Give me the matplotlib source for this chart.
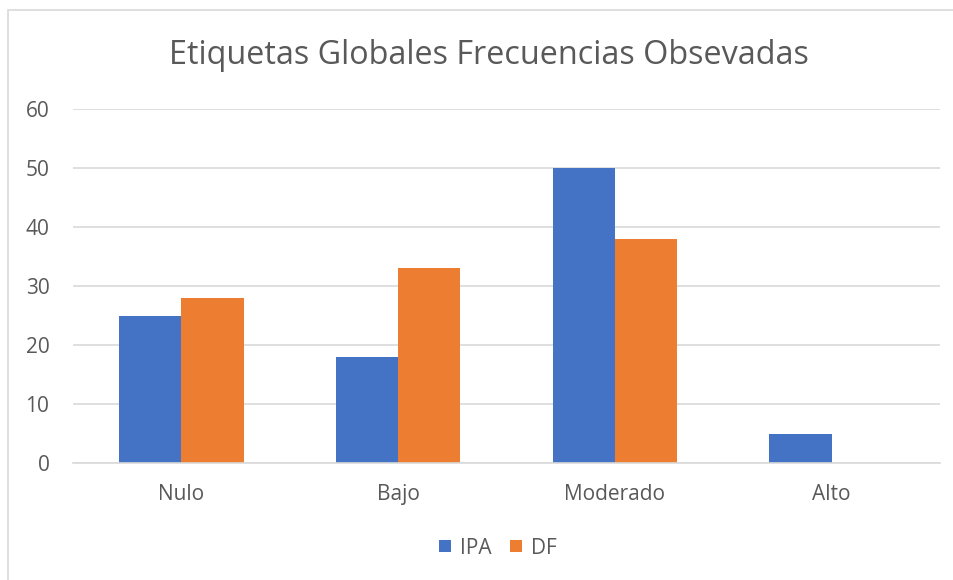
import numpy as np
import matplotlib as mpl
from matplotlib import pyplot as plt
from matplotlib.patches import Rectangle

categories = ["Nulo", "Bajo", "Moderado", "Alto"]
ipa = [25, 18, 50, 5]
df = [28, 33, 38, 0]
yticks = [0, 10, 20, 30, 40, 50, 60]

plt.rc("font", family=["Open Sans", "DejaVu Sans"])
text_color = "#595959"
grid_color = "#d9d9d9"

fig = plt.figure(figsize=(9.54, 5.80), dpi=100)
ax = fig.add_axes([73 / 954, 1 - 463 / 580, (940 - 73) / 954, (463 - 109) / 580])

x = np.arange(len(categories))
w = 0.287
ax.bar(x - w / 2, ipa, w, color="#4472c4", label="IPA", zorder=3)
ax.bar(x + w / 2, df, w, color="#ed7d31", label="DF", zorder=3)

ax.set_xlim(-0.5, len(categories) - 0.5)
ax.set_ylim(0, 60)
ax.set_yticks(yticks)
ax.set_xticks(x)
ax.set_xticklabels(categories)
ax.yaxis.grid(True, color=grid_color, linewidth=1.2, zorder=0)
for s in ["top", "right", "left"]:
    ax.spines[s].set_visible(False)
ax.spines["bottom"].set_color(grid_color)
ax.spines["bottom"].set_linewidth(1.2)
ax.spines["bottom"].set_zorder(4)
ax.tick_params(length=0, labelsize=15, colors=text_color)
ax.tick_params(axis="y", pad=17)
ax.tick_params(axis="x", pad=15)

fig.text(0.512, 1 - 56 / 580, "Etiquetas Globales Frecuencias Obsevadas",
         ha="center", va="center", fontsize=23.3, color=text_color)

leg = fig.legend(loc="center", bbox_to_anchor=(0.522, 1 - 548 / 580), ncol=2,
                 frameon=False, fontsize=15, handlelength=0.55, handleheight=0.55,
                 handletextpad=0.45, columnspacing=0.9)
for t in leg.get_texts():
    t.set_color(text_color)

fig.patches.append(Rectangle((8 / 954, -0.1), 1.2, 1 - 10 / 580 + 0.1,
                             transform=fig.transFigure, fill=False,
                             edgecolor="#d9d9d9", linewidth=1.2))

fig.savefig("out.png", dpi=100)
